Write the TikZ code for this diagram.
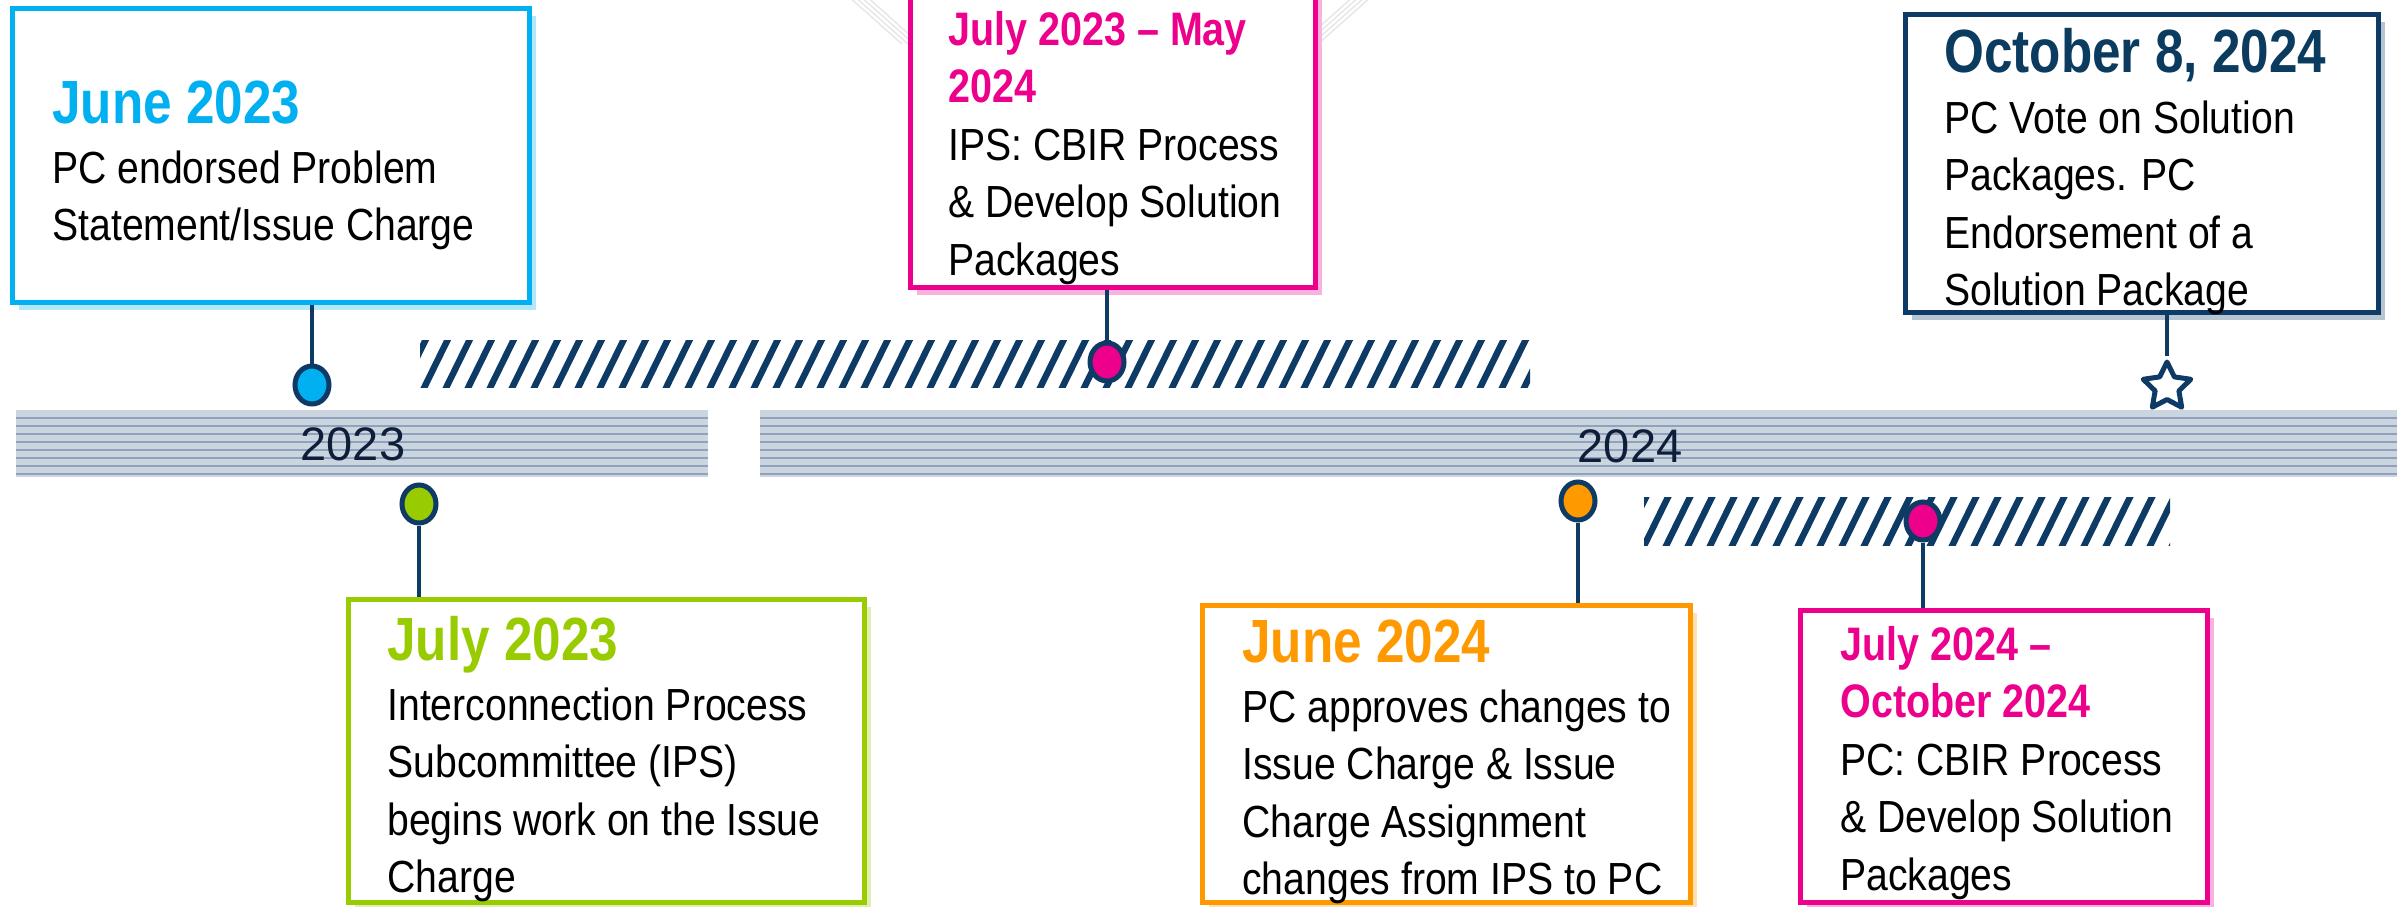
\documentclass[tikz,border=0pt]{standalone}
\usepackage{fontspec}
\setmainfont{Liberation Sans}
\newfontfamily\bodyf{Liberation Sans}[FakeStretch=0.87]
\newfontfamily\titlef{Liberation Sans}[FakeStretch=0.84]
\usetikzlibrary{shapes.geometric,shadows}
\definecolor{cyanc}{HTML}{00B0F0}
\definecolor{greenc}{HTML}{99CC00}
\definecolor{orangec}{HTML}{FF9900}
\definecolor{pinkc}{HTML}{EC008C}
\definecolor{navyc}{HTML}{0E3A66}
\definecolor{navyt}{HTML}{0B3B5E}
\definecolor{barfl}{HTML}{CBD5E0}
\definecolor{barln}{HTML}{8FA1BB}
\definecolor{yeartext}{HTML}{0E1E38}
\begin{document}
\begin{tikzpicture}[x=0.5pt,y=-0.5pt,
 evbox/.style={rectangle, draw=#1, line width=2.5pt, fill=white, inner sep=0pt,
   drop shadow={shadow xshift=3pt, shadow yshift=-3.5pt, fill=#1!30, opacity=1}},
 evdot/.style={ellipse, draw=navyc, line width=2.5pt, fill=#1, minimum width=17pt, minimum height=19pt, inner sep=0pt},
 evlink/.style={draw=navyc, line width=2pt},
 bigttl/.style={text=#1, inner sep=0pt, anchor=base west, font=\titlef\bfseries\fontsize{30.5pt}{28.75pt}\selectfont},
 smallttl/.style={text=#1, inner sep=0pt, anchor=base west, font=\titlef\bfseries\fontsize{23.5pt}{28.75pt}\selectfont},
 bodytxt/.style={text=black, inner sep=0pt, anchor=base west, font=\bodyf\fontsize{22.5pt}{28.75pt}\selectfont},
 yearlbl/.style={text=yeartext, inner sep=0pt, anchor=base, font=\fontsize{23.5pt}{28pt}\selectfont},
 hatchln/.style={draw=navyc, line width=3.2pt},
 barstripe/.style={draw=barln, line width=1.25pt},
 fadeln/.style={draw=black!9, line width=0.8pt},
]
\useasboundingbox (0,0) rectangle (2405,906);
\clip (0,0) rectangle (2405,906);

% faint background chevron near top box
\foreach \i in {0,...,3} {
  \draw[fadeln] (848+6*\i,-4) -- (902+6*\i,44);
  \draw[fadeln] (1372-6*\i,-4) -- (1318-6*\i,44);
}

% timeline bars
\fill[barfl] (16,410) rectangle (708,477);
\foreach \y in {418,426,...,474} \draw[barstripe] (16,\y) -- (708,\y);
\fill[barfl] (760,410) rectangle (2397,477);
\foreach \y in {418,426,...,474} \draw[barstripe] (760,\y) -- (2397,\y);
\node[yearlbl] (y23) at (353,460) {2023};
\node[yearlbl] (y24) at (1630,462) {2024};

% hatched periods
\begin{scope}
  \clip (420,340) rectangle (1530,387);
  \foreach \i in {0,...,52} \draw[hatchln] (400+22*\i,392) -- (428+22*\i,335);
\end{scope}
\begin{scope}
  \clip (1644,497) rectangle (2170,545);
  \foreach \i in {0,...,25} \draw[hatchln] (1620+22*\i,550) -- (1648+22*\i,493);
\end{scope}

% boxes
\node[evbox=cyanc, minimum width=258.5pt, minimum height=147pt] (b1) at (271,155.5) {};
\node[evbox=pinkc, minimum width=202.5pt, minimum height=153.75pt] (b2) at (1113,133.75) {};
\node[evbox=navyc, minimum width=236.5pt, minimum height=149pt] (b3) at (2142,163.5) {};
\node[evbox=greenc, minimum width=258pt, minimum height=151.25pt] (b4) at (606.5,750.75) {};
\node[evbox=orangec, minimum width=244pt, minimum height=148.25pt] (b5) at (1446.5,753.75) {};
\node[evbox=pinkc, minimum width=203.5pt, minimum height=145.75pt] (b6) at (2004,756.25) {};

% texts
\node[bigttl=cyanc] (t1) at (52,123) {June 2023};
\node[bodytxt] (d1) at (52,183) {\vtop{\hbox{PC endorsed Problem}\hbox{Statement/Issue Charge}}};

\node[smallttl=pinkc] (t2) at (948,45) {\vtop{\hbox{July 2023 – May}\hbox{2024}}};
\node[bodytxt] (d2) at (948,160) {\vtop{\hbox{IPS: CBIR Process}\hbox{\& Develop Solution}\hbox{Packages}}};

\node[bigttl=navyt] (t3) at (1944,72) {October 8, 2024};
\node[bodytxt] (d3) at (1944,133) {\vtop{\hbox{PC Vote on Solution}\hbox{Packages. PC}\hbox{Endorsement of a}\hbox{Solution Package}}};

\node[bigttl=greenc] (t4) at (387,660) {July 2023};
\node[bodytxt] (d4) at (387,720) {\vtop{\hbox{Interconnection Process}\hbox{Subcommittee (IPS)}\hbox{begins work on the Issue}\hbox{Charge}}};

\node[bigttl=orangec] (t5) at (1242,662) {June 2024};
\node[bodytxt] (d5) at (1242,722) {\vtop{\hbox{PC approves changes to}\hbox{Issue Charge \& Issue}\hbox{Charge Assignment}\hbox{changes from IPS to PC}}};

\node[smallttl=pinkc] (t6) at (1840,660) {\vtop{\hbox{July 2024 –}\hbox{October 2024}}};
\node[bodytxt] (d6) at (1840,775) {\vtop{\hbox{PC: CBIR Process}\hbox{\& Develop Solution}\hbox{Packages}}};

% markers
\node[evdot=cyanc] (c1) at (312,385) {};
\node[evdot=pinkc] (c2) at (1107,362) {};
\node[star, star points=5, star point ratio=2.0, draw=navyc, line width=2.5pt, line join=round,
      fill=white, minimum size=25pt, inner sep=0pt] (s3) at (2167,387) {};
\node[evdot=greenc] (c4) at (419,504) {};
\node[evdot=orangec] (c5) at (1578,501) {};
\node[evdot=pinkc] (c6) at (1923,521) {};

% connectors
\draw[evlink] (c1 |- b1.south) -- (c1.north);
\draw[evlink] (c2 |- b2.south) -- (c2.north);
\draw[evlink] (s3 |- b3.south) -- (s3.north);
\draw[evlink] (c4.south) -- (c4 |- b4.north);
\draw[evlink] (c5.south) -- (c5 |- b5.north);
\draw[evlink] (c6.south) -- (c6 |- b6.north);
\end{tikzpicture}
\end{document}
